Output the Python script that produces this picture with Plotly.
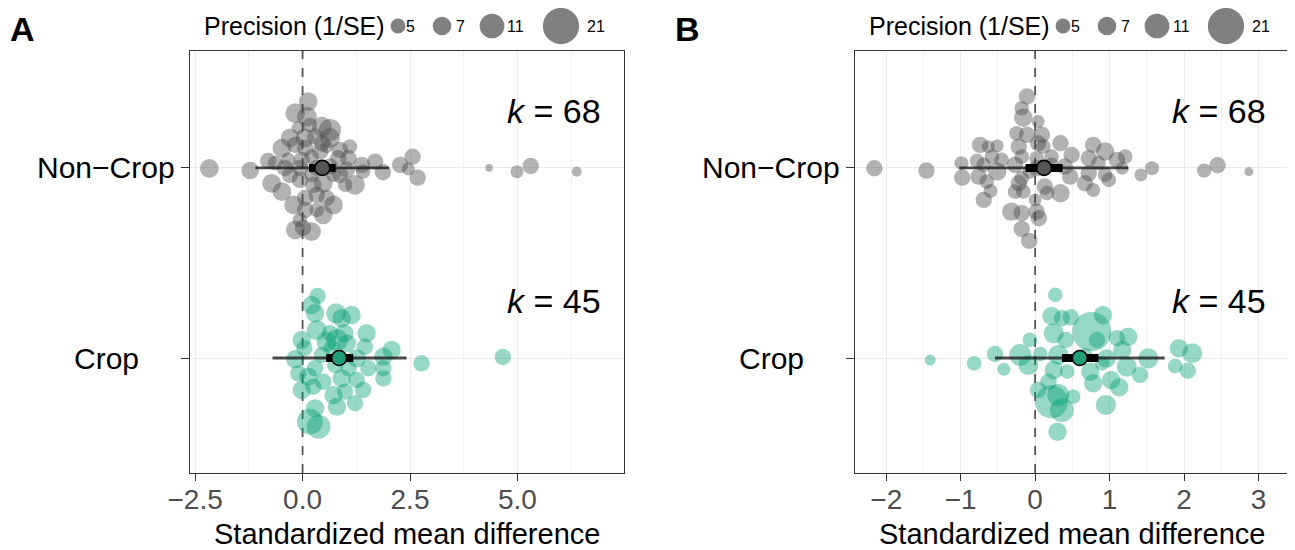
import numpy as np
import plotly.graph_objects as go

# ---------------- DATA ----------------
categories = ["Crop", "Non\u2212Crop"]
cat_pos = {"Crop": 1, "Non\u2212Crop": 2}
k_values = {"Crop": 45, "Non\u2212Crop": 68}

# Panel A - Non-Crop
ncA_smd = [-2.17, -1.22, 0.13, -0.17, 0.10, -0.10, 0.45, 0.64, 0.64, -0.29, 0.06, 0.29, -0.48, -0.17, 0.06, 0.41,
           0.56, 0.87, 1.10, -0.80, -0.64, -0.34, -0.02, 0.21, 0.83, 1.07, 1.38, 1.69, 1.87, 2.27, 2.56, 2.46, 2.68,
           -0.72, -0.48, -0.29, -0.06, 0.21, 0.48, 0.72, 0.99, 1.22, 1.41, -0.21, 0.06, 0.33, 0.56, 0.72, 0.06, 0.33,
           0.48, -0.06, -0.17, 0.21, 0.01, 4.34, 4.99, 5.31, 6.38, 0.33, 0.64, 1.03, -0.06, -0.41, 0.87, 0.25, 0.45, 0.17]
ncA_jit = [-0.002, -0.014, 0.349, 0.288, 0.270, 0.212, 0.217, 0.200, 0.158, 0.158, 0.158, 0.165, 0.104, 0.121, 0.105,
           0.086, 0.112, 0.095, 0.112, 0.037, 0.026, 0.042, 0.042, 0.059, 0.051, 0.051, 0.016, 0.033, -0.023, 0.016,
           0.059, -0.005, -0.051, -0.081, -0.125, -0.037, -0.063, -0.037, -0.081, -0.037, -0.089, -0.089, -0.019,
           -0.195, -0.158, -0.142, -0.158, -0.195, -0.221, -0.221, -0.247, -0.274, -0.326, -0.335, -0.316, 0.0, -0.02,
           0.01, -0.02, 0.0, 0.007, -0.01, 0.0, 0.0, -0.037, -0.089, 0.13, 0.226]
ncA_prec = [7.1, 6.4, 7.1, 7.7, 7.7, 4.2, 7.7, 9.1, 7.7, 7.1, 7.1, 5.8, 7.1, 5.8, 5.8, 5.8, 4.2, 5.8, 4.9, 5.8, 4.9,
            4.9, 5.8, 4.9, 5.8, 5.8, 5.8, 5.8, 5.8, 5.8, 5.8, 4.2, 5.8, 7.1, 7.1, 5.8, 5.8, 4.9, 7.1, 4.9, 4.9, 7.7,
            4.9, 7.1, 5.8, 5.8, 5.8, 7.1, 5.8, 4.9, 7.1, 4.9, 7.1, 7.1, 5.8, 2.1, 4.2, 5.8, 2.9, 5.8, 5.8, 5.8, 5.8,
            5.8, 5.8, 5.8, 5.8, 4.9]

# Panel A - Crop
cA_smd = [0.35, 0.21, 0.29, 0.78, 0.91, 1.14, 0.33, 0.64, 0.97, 1.49, -0.02, 0.56, 0.80, 1.03, 1.45, 2.07, 0.04, 0.45,
          -0.17, 1.26, 1.88, 2.77, -0.10, 0.29, 1.53, 1.88, 0.13, 0.48, 0.91, 1.26, 1.88, -0.02, 0.25, 0.72, 0.99,
          1.41, 0.80, 1.22, 0.29, 0.17, 0.37, 0.76, 1.07, 4.66, 0.68]
cA_jit = [0.326, 0.279, 0.235, 0.235, 0.209, 0.226, 0.147, 0.13, 0.13, 0.13, 0.095, 0.086, 0.095, 0.077, 0.059, 0.042,
          0.051, 0.016, -0.007, -0.002, 0.007, -0.028, -0.081, -0.054, -0.054, -0.054, -0.098, -0.125, -0.107,
          -0.116, -0.107, -0.168, -0.151, -0.195, -0.177, -0.168, -0.256, -0.238, -0.265, -0.335, -0.362, -0.037,
          -0.054, 0.005, 0.051]
cA_prec = [5.8, 6.9, 6.9, 7.9, 6.9, 6.9, 7.9, 5.8, 6.9, 6.9, 6.9, 7.9, 9.1, 6.9, 5.8, 6.9, 5.8, 5.8, 6.9, 6.9, 6.9,
           5.8, 5.8, 5.8, 5.8, 5.8, 6.9, 5.8, 6.9, 5.8, 5.8, 6.9, 5.8, 6.9, 5.8, 5.8, 6.9, 5.8, 6.9, 11.7, 10.4, 5.8,
           5.8, 5.8, 5.8]

# Panel B - Non-Crop
ncB_smd = [-2.16, -1.46, -0.99, -0.98, -0.74, -0.63, -0.51, -0.58, -0.78, -0.69, -0.51, -0.76, -0.65, -0.60, -0.69,
           -0.11, -0.18, -0.16, 0.04, -0.25, -0.11, 0.09, -0.22, 0.04, 0.11, 0.34, 0.49, -0.18, 0.02, 0.22, -0.27,
           0.40, -0.18, -0.22, -0.27, -0.16, 0.13, 0.16, 0.34, 0.00, -0.32, -0.18, 0.02, 0.05, -0.18, -0.08, 0.47,
           0.67, 0.78, 0.78, 0.94, 0.72, 0.85, 0.72, 0.94, 0.99, 1.10, 1.21, 1.17, 1.42, 1.57, 2.27, 2.45, 2.87, 0.22,
           0.02, -0.45, -0.07]
ncB_jit = [-0.002, -0.014, 0.025, -0.051, 0.121, 0.112, 0.116, 0.059, 0.037, 0.016, -0.019, -0.046, -0.072, -0.121,
           -0.168, 0.376, 0.314, 0.265, 0.244, 0.182, 0.174, 0.174, 0.112, 0.130, 0.112, 0.130, 0.068, 0.059, 0.051,
           0.059, 0.016, 0.007, -0.054, -0.081, -0.125, -0.125, -0.098, -0.133, -0.133, -0.168, -0.230, -0.238,
           -0.230, -0.265, -0.321, -0.384, -0.046, -0.081, -0.116, 0.121, 0.086, 0.051, 0.025, -0.028, -0.037,
           -0.063, 0.042, 0.059, -0.002, -0.037, -0.002, -0.014, 0.014, -0.019, 0.016, -0.002, 0.042, -0.019]
ncB_prec = [5.8, 5.8, 4.6, 5.8, 5.8, 4.1, 4.1, 4.9, 4.9, 4.9, 6.9, 5.8, 4.9, 4.6, 5.8, 5.8, 4.9, 6.9, 4.1, 4.9,
            5.8, 5.8, 5.8, 5.8, 4.9, 5.8, 5.8, 4.9, 4.9, 4.9, 5.8, 5.8, 4.9, 5.8, 4.9, 4.9, 5.8, 4.9, 6.9, 4.1,
            6.9, 5.8, 5.8, 5.8, 5.8, 5.8, 5.8, 5.8, 4.6, 5.8, 6.9, 5.8, 4.9, 5.8, 4.9, 4.9, 5.8, 4.9, 4.1, 4.1,
            4.6, 4.75, 5.8, 2.5, 4.9, 5.8, 4.9, 4.9]

# Panel B - Crop
cB_smd = [-1.41, -0.82, -0.54, -0.42, -0.20, -0.09, -0.07, 0.07, 0.27, 0.22, 0.36, 0.48, 0.25, 0.41, 0.31, 0.25, 0.43,
          0.18, 0.04, 0.31, 0.22, 0.36, 0.51, 0.30, 0.76, 0.91, 0.83, 0.67, 0.96, 0.74, 0.90, 0.78, 1.02, 1.13, 0.95,
          1.10, 1.25, 1.17, 1.23, 1.41, 1.52, 1.93, 2.11, 1.88, 2.05]
cB_jit = [-0.011, -0.028, 0.021, -0.059, 0.016, -0.037, 0.095, 0.021, 0.332, 0.221, 0.209, 0.214, 0.130, 0.095, 0.016,
          -0.063, -0.072, -0.125, -0.168, -0.195, -0.230, -0.274, -0.204, -0.388, 0.139, 0.226, 0.095, 0.016,
          -0.002, -0.072, -0.028, -0.133, -0.116, -0.154, -0.247, 0.104, 0.112, 0.042, -0.046, -0.089, -0.002,
          0.051, 0.025, -0.042, -0.067]
cB_prec = [3.3, 4.9, 5.8, 4.1, 9.1, 7.9, 4.9, 4.9, 4.9, 6.9, 5.8, 5.8, 7.9, 5.8, 7.9, 6.9, 4.9, 5.8, 5.8, 9.1,
           17.8, 10.4, 4.9, 6.9, 24.0, 6.9, 5.8, 4.9, 6.9, 6.9, 4.9, 6.9, 6.9, 6.9, 7.9, 5.8, 6.9, 6.9, 7.9, 5.8,
           7.9, 6.9, 7.9, 4.9, 5.8]

# Summary estimates: [estimate, CI low, CI high, PI low, PI high]
sumA_noncrop = [0.46, 0.15, 0.77, -1.10, 2.01]
sumA_crop = [0.85, 0.55, 1.18, -0.70, 2.42]
sumB_noncrop = [0.12, -0.13, 0.37, -1.02, 1.25]
sumB_crop = [0.60, 0.36, 0.85, -0.54, 1.74]

legend_precisions = [5, 7, 11, 21]
ticksA = [-2.5, 0.0, 2.5, 5.0]
ticksB = [-2, -1, 0, 1, 2, 3]

# ---------------- STYLE / LAYOUT ----------------
WIN_W, WIN_H = 1295, 550
OFF = 8  # page body margin of the html page
FW, FH = WIN_W - OFF, WIN_H - OFF
FONT = "Liberation Sans, Arial, Helvetica, sans-serif"
GREY_PT = "rgba(72,72,72,0.6)"
GREEN_PT = "rgba(0,158,115,0.58)"
GREY_SUM = "#555555"
GREEN_SUM = "#1f9e78"
Y_RANGE = [0.395, 2.615]
PANEL_TOP, PANEL_BOT = 51, 473


def size_px(p):
    return 1.1 * (8.31 * np.sqrt(np.asarray(p, dtype=float)) - 5.08)


def px_x(px):
    return (px - OFF) / FW


def px_y(py):
    return 1 - (py - OFF) / FH


panels = [
    dict(tag="A", left=190, right=624, xrange=[-2.62, 7.48], ticks=ticksA, fmt=".1f", minor=1.25,
         groups=[("Non\u2212Crop", ncA_smd, ncA_jit, ncA_prec, GREY_PT, GREY_SUM, sumA_noncrop),
                 ("Crop", cA_smd, cA_jit, cA_prec, GREEN_PT, GREEN_SUM, sumA_crop)]),
    dict(tag="B", left=855, right=1289, xrange=[-2.42, 3.41], ticks=ticksB, fmt="d", minor=0.5,
         groups=[("Non\u2212Crop", ncB_smd, ncB_jit, ncB_prec, GREY_PT, GREY_SUM, sumB_noncrop),
                 ("Crop", cB_smd, cB_jit, cB_prec, GREEN_PT, GREEN_SUM, sumB_crop)]),
]

fig = go.Figure()
annotations = []
shapes = []

for i, P in enumerate(panels):
    sfx = "" if i == 0 else str(i + 1)
    xa, ya = "x" + sfx, "y" + sfx
    # zero reference line
    fig.add_trace(go.Scatter(x=[0, 0], y=Y_RANGE, mode="lines", xaxis=xa, yaxis=ya,
                             line=dict(color="#555555", width=1.8, dash="dash"), hoverinfo="skip",
                             showlegend=False))
    for name, smd, jit, prec, ptcol, sumcol, summ in P["groups"]:
        c = cat_pos[name]
        fig.add_trace(go.Scatter(
            x=smd, y=[c + j for j in jit], mode="markers", xaxis=xa, yaxis=ya, showlegend=False,
            marker=dict(size=size_px(prec), color=ptcol, line=dict(width=0)), hoverinfo="skip"))
    for name, smd, jit, prec, ptcol, sumcol, summ in P["groups"]:
        c = cat_pos[name]
        est, lo, hi, plo, phi = summ
        fig.add_trace(go.Scatter(x=[plo, phi], y=[c, c], mode="lines", xaxis=xa, yaxis=ya,
                                 line=dict(color="rgba(25,25,25,0.78)", width=2.8), showlegend=False,
                                 hoverinfo="skip"))
        fig.add_trace(go.Scatter(x=[lo, hi], y=[c, c], mode="lines", xaxis=xa, yaxis=ya,
                                 line=dict(color="black", width=8), showlegend=False, hoverinfo="skip"))
        fig.add_trace(go.Scatter(x=[est], y=[c], mode="markers", xaxis=xa, yaxis=ya, showlegend=False,
                                 marker=dict(size=15, color=sumcol, line=dict(color="black", width=1.6)),
                                 hoverinfo="skip"))
        # k label
        ky = 111 if name != "Crop" else 301
        annotations.append(dict(
            text=f"<i>k</i> = {k_values[name]}", xref=xa + " domain", yref="paper",
            x=1 - 21 / (P["right"] - P["left"]), y=px_y(ky), xanchor="right", yanchor="middle",
            showarrow=False, font=dict(family=FONT, size=34, color="black")))
        # category label (centered, like ggplot)
        annotations.append(dict(
            text=name, xref="paper", yref=ya, x=px_x(P["left"] - 83.5), y=c, xanchor="center",
            yanchor="middle", showarrow=False, font=dict(family=FONT, size=30, color="black")))

    # axes
    xdom = [px_x(P["left"]), px_x(P["right"])]
    ydom = [px_y(PANEL_BOT), px_y(PANEL_TOP)]
    fig.layout["xaxis" + sfx] = dict(
        domain=xdom, range=P["xrange"], anchor=ya, tickmode="array", tickvals=P["ticks"],
        tickformat=P["fmt"], showgrid=True, gridcolor="#ebebeb", gridwidth=1.3, zeroline=False,
        showline=True, mirror=True, linecolor="#333333", linewidth=1, ticks="outside", ticklen=7,
        tickcolor="#333333", tickwidth=1.2, tickfont=dict(family=FONT, size=28, color="#4d4d4d"),
        ticklabelstandoff=-6,
        minor=dict(dtick=P["minor"], tick0=0, showgrid=True, gridcolor="#f2f2f2", gridwidth=0.8, ticks=""),
        automargin=False, fixedrange=True)
    fig.layout["yaxis" + sfx] = dict(
        domain=ydom, range=Y_RANGE, anchor=xa, tickmode="array", tickvals=[1, 2], ticktext=["", ""],
        showgrid=True, gridcolor="#ebebeb", gridwidth=1.3, zeroline=False, showline=True, mirror=True,
        linecolor="#333333", linewidth=1, ticks="outside", ticklen=8, tickcolor="#333333", tickwidth=1.2,
        automargin=False, fixedrange=True)

    # x-axis title
    annotations.append(dict(text="Standardized mean difference", xref=xa + " domain", yref="paper",
                            x=0.5, y=px_y(534), xanchor="center", yanchor="middle", showarrow=False,
                            font=dict(family=FONT, size=29, color="black")))
    # panel tag
    annotations.append(dict(text=f"<b>{P['tag']}</b>", xref="paper", yref="paper",
                            x=px_x(P["left"] - 182), y=px_y(29), xanchor="left", yanchor="middle",
                            showarrow=False, font=dict(family=FONT, size=34, color="black")))
    # size legend
    annotations.append(dict(text="Precision (1/SE)", xref="paper", yref="paper",
                            x=px_x(P["left"] + 12), y=px_y(26), xanchor="left", yanchor="middle",
                            showarrow=False, font=dict(family=FONT, size=25, color="black")))
    key_centres = [208, 252, 302, 371]
    label_centres = [220, 270, 326, 406]
    for p, kc, lc in zip(legend_precisions, key_centres, label_centres):
        d = float(size_px(p))
        cx = P["left"] + kc
        cy = 26
        shapes.append(dict(type="circle", xref="paper", yref="paper",
                           x0=px_x(cx - d / 2), x1=px_x(cx + d / 2), y0=px_y(cy + d / 2), y1=px_y(cy - d / 2),
                           fillcolor="#808080", line=dict(width=0)))
        annotations.append(dict(text=str(p), xref="paper", yref="paper", x=px_x(P["left"] + lc),
                                y=px_y(cy + 1), xanchor="center", yanchor="middle", showarrow=False,
                                font=dict(family=FONT, size=16, color="black")))

fig.update_layout(width=FW, height=FH, margin=dict(l=0, r=0, t=0, b=0), paper_bgcolor="white",
                  plot_bgcolor="white", showlegend=False, annotations=annotations, shapes=shapes,
                  font=dict(family=FONT))

fig.write_html("out.html")
